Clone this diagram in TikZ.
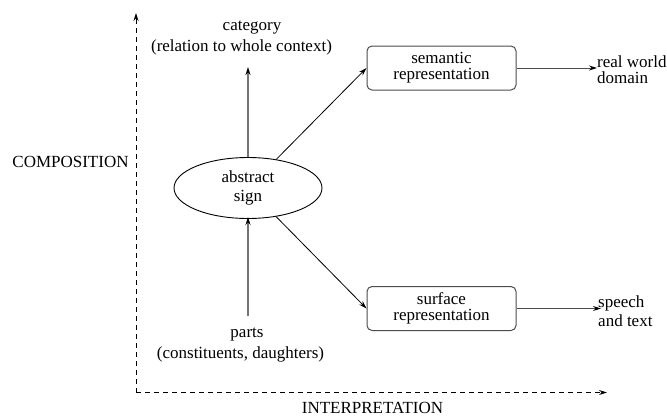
\documentclass[tikz,border=0pt]{standalone}
\usepackage{fontspec}
\setmainfont{Liberation Serif}
\usetikzlibrary{arrows.meta,shapes.geometric}

\tikzset{
  txt/.style={inner sep=0pt, font=\fontsize{17}{19}\selectfont},
  axis/.style={line width=0.9pt, dash pattern=on 5pt off 4pt, -{Stealth[length=8pt,width=5pt]}},
  flow/.style={line width=1.6pt, draw=black!55, -{Stealth[length=8pt,width=5pt,color=black]}},
  link/.style={line width=0.8pt, -{Stealth[length=8pt,width=5pt]}},
  outlink/.style={line width=1pt, draw=black!70, -{Stealth[length=8pt,width=5pt,color=black]}},
  repbox/.style={draw=black!70, line width=1pt, rounded corners=5pt,
    minimum width=149pt, minimum height=44pt, inner sep=0pt, align=center,
    font=\fontsize{17}{16}\selectfont},
}

\begin{document}
\begin{tikzpicture}[x=1pt, y=-1pt]
  \useasboundingbox (0,0) rectangle (667,416);

  % axes
  \coordinate (origin) at (136,392.5);
  \coordinate (ytip) at (136,13);
  \coordinate (xtip) at (607,392.5);
  \draw[axis] (origin) -- (ytip);
  \draw[axis] (origin) -- (xtip);
  \node[txt] (comp) at (70.5,162) {COMPOSITION};
  \node[txt, anchor=base] (interp) at (372.5,413) {INTERPRETATION};

  % central sign
  \node[draw, line width=0.9pt, ellipse, minimum width=148pt, minimum height=61pt,
        inner sep=0pt, align=center, font=\fontsize{17}{19}\selectfont]
        (sign) at (248,188) {abstract\\sign};

  % composition: parts up to category
  \node[txt] (cat) at (252,28) {category};
  \node[txt] (catnote) at (241.5,47) {(relation to whole context)};
  \node[txt] (parts) at (247,335) {parts};
  \node[txt] (partsnote) at (240.5,354) {(constituents, daughters)};
  \coordinate (cattip) at (248,67);
  \coordinate (partsfoot) at (248,316);
  \draw[flow] (sign.north) -- (cattip);
  \draw[flow] (partsfoot) -- ([yshift=2pt]sign.south);

  % interpretation: two representations
  \node[repbox] (sem) at (441.5,68) {semantic\\representation};
  \node[repbox] (surf) at (441.5,308.5) {surface\\representation};
  \draw[link] (sign) -- (sem.west);
  \draw[link] (sign) -- (surf.west);

  \node[txt, anchor=west, align=left, font=\fontsize{17}{16}\selectfont] (world) at (597,70) {real world\\domain};
  \node[txt, anchor=west, align=left] (speech) at (598,311) {speech\\and text};
  \draw[outlink] (sem.east) -- (sem.east -| world.west);
  \draw[outlink] (surf.east) -- ([xshift=3pt]surf.east -| speech.west);
\end{tikzpicture}
\end{document}
